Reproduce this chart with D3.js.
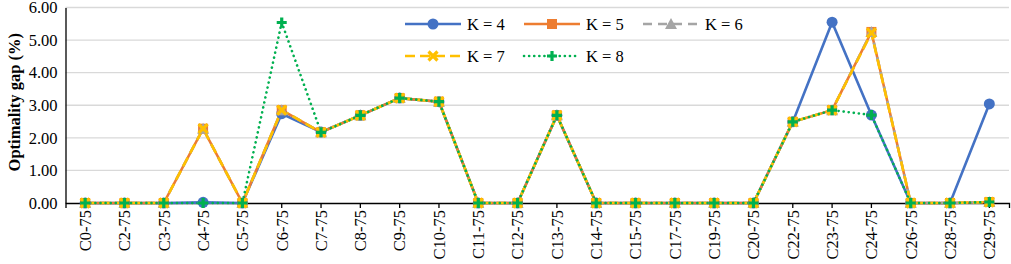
<!DOCTYPE html>
<meta charset="utf-8">
<script src="https://d3js.org/d3.v7.min.js"></script>
<style>
  body { margin: 0; background: #fff; }
</style>
<div id="chart"></div>
<script>
  // categories and values
  var categories = ["C0-75", "C2-75", "C3-75", "C4-75", "C5-75", "C6-75", "C7-75", "C8-75",
    "C9-75", "C10-75", "C11-75", "C12-75", "C13-75", "C14-75", "C15-75", "C17-75", "C19-75",
    "C20-75", "C22-75", "C23-75", "C24-75", "C26-75", "C28-75", "C29-75"];

  var k4 = [0, 0, 0, 0.02, 0, 2.74, 2.18, 2.69, 3.22, 3.11, 0, 0, 2.69, 0, 0, 0, 0, 0, 2.49, 5.55, 2.70, 0, 0, 3.04];
  var k5 = [0, 0, 0, 2.28, 0, 2.85, 2.17, 2.69, 3.22, 3.11, 0, 0, 2.69, 0, 0, 0, 0, 0, 2.49, 2.85, 5.25, 0, 0, 0.03];
  var k6 = [0, 0, 0, 2.28, 0, 2.85, 2.17, 2.69, 3.22, 3.11, 0, 0, 2.69, 0, 0, 0, 0, 0, 2.49, 2.85, 5.25, 0, 0, 0.03];
  var k7 = [0, 0, 0, 2.28, 0, 2.85, 2.17, 2.69, 3.22, 3.11, 0, 0, 2.69, 0, 0, 0, 0, 0, 2.49, 2.85, 5.22, 0, 0, 0.03];
  var k8 = [0, 0, 0, 0, 0, 5.54, 2.17, 2.69, 3.22, 3.11, 0, 0, 2.69, 0, 0, 0, 0, 0, 2.49, 2.85, 2.70, 0, 0, 0.03];

  var yTicks = [0, 1, 2, 3, 4, 5, 6];

  var series = [
    { name: "K = 4", values: k4, color: "#4472C4", dash: null, marker: "circle" },
    { name: "K = 5", values: k5, color: "#ED7D31", dash: null, marker: "square" },
    { name: "K = 6", values: k6, color: "#A5A5A5", dash: "9,6", marker: "triangle" },
    { name: "K = 7", values: k7, color: "#FFC000", dash: "10,5", marker: "x" },
    { name: "K = 8", values: k8, color: "#00B050", dash: "0.1,5", marker: "plus" }
  ];

  var FONT = "'Liberation Serif', serif";

  var W = 1011, H = 264;
  var margin = { top: 7.5, right: 2, bottom: 61, left: 65.5 };
  var width = W - margin.left - margin.right,
    height = H - margin.top - margin.bottom;

  var svg = d3.select("#chart").append("svg")
    .attr("width", W).attr("height", H)
    .append("g")
    .attr("transform", "translate(" + margin.left + "," + margin.top + ")");

  var x = d3.scaleBand().domain(categories).range([0, width]);
  var y = d3.scaleLinear().domain([0, 6]).range([height, 0]);
  var cx = function (c) { return x(c) + x.bandwidth() / 2; };

  // gridlines
  svg.append("g")
    .selectAll("line")
    .data(yTicks.filter(function (d) { return d > 0; }))
    .enter().append("line")
    .attr("x1", 0).attr("x2", width)
    .attr("y1", function (d) { return y(d); })
    .attr("y2", function (d) { return y(d); })
    .attr("stroke", "#d9d9d9").attr("stroke-width", 1.3);

  // y axis
  var yAxis = svg.append("g")
    .call(d3.axisLeft(y).tickValues(yTicks).tickSize(0).tickPadding(8)
      .tickFormat(d3.format(".2f")));
  yAxis.attr("font-family", null);
  yAxis.select(".domain").attr("stroke", "#000").attr("stroke-width", 1.3);
  yAxis.selectAll("text").style("font-family", FONT).style("font-size", "16.5px").attr("fill", "#000");

  // x axis
  var xAxis = svg.append("g")
    .attr("transform", "translate(0," + height + ")")
    .call(d3.axisBottom(x).tickSize(5).tickSizeOuter(5).tickPadding(5));
  xAxis.attr("font-family", null);
  xAxis.select(".domain").attr("stroke", "#000").attr("stroke-width", 1.3);
  xAxis.selectAll(".tick line").attr("stroke", "#000").attr("stroke-width", 1.3);
  xAxis.selectAll("text")
    .style("font-family", FONT)
    .style("font-size", "16.5px")
    .attr("fill", "#000")
    .attr("transform", "rotate(-90)")
    .attr("text-anchor", "end")
    .attr("x", -7).attr("y", 0).attr("dy", "0.35em");

  // y label
  svg.append("text")
    .attr("transform", "translate(" + (14 - margin.left) + "," + (height / 2 - 3) + ") rotate(-90)")
    .attr("text-anchor", "middle").attr("dy", "0.35em")
    .style("font-family", FONT)
    .style("font-size", "16.5px").style("font-weight", "bold")
    .text("Optimality gap (%)");

  function drawMarker(g, type, color) {
    if (type === "circle") {
      g.append("circle").attr("r", 5.5).attr("fill", color);
    } else if (type === "square") {
      g.append("rect").attr("x", -5).attr("y", -5).attr("width", 10).attr("height", 10).attr("fill", color);
    } else if (type === "triangle") {
      g.append("path").attr("d", "M0,-6L6,5L-6,5Z").attr("fill", color);
    } else if (type === "x") {
      g.append("path").attr("d", "M-4.5,-4.5L4.5,4.5M-4.5,4.5L4.5,-4.5")
        .attr("stroke", color).attr("stroke-width", 3.2).attr("fill", "none");
    } else if (type === "plus") {
      g.append("path").attr("d", "M-5,0L5,0M0,-5L0,5")
        .attr("stroke", color).attr("stroke-width", 3.2).attr("fill", "none");
    }
  }

  var line = d3.line()
    .x(function (d, i) { return cx(categories[i]); })
    .y(function (d) { return y(d); });

  series.forEach(function (s) {
    svg.append("path")
      .datum(s.values)
      .attr("d", line)
      .attr("fill", "none")
      .attr("stroke", s.color)
      .attr("stroke-width", 2.6)
      .attr("stroke-linecap", s.marker === "plus" ? "round" : "butt")
      .attr("stroke-dasharray", s.dash);
  });

  series.forEach(function (s) {
    s.values.forEach(function (v, i) {
      var g = svg.append("g").attr("transform", "translate(" + cx(categories[i]) + "," + y(v) + ")");
      drawMarker(g, s.marker, s.color);
    });
  });

  // legend
  var legendPos = [
    { x: 405, y: 24 }, { x: 524, y: 24 }, { x: 643, y: 24 },
    { x: 405, y: 56 }, { x: 524, y: 56 }
  ];
  var legend = d3.select("svg").append("g");
  series.forEach(function (s, i) {
    var p = legendPos[i];
    var g = legend.append("g").attr("transform", "translate(" + p.x + "," + p.y + ")");
    g.append("line").attr("x1", 0).attr("x2", 56).attr("y1", 0).attr("y2", 0)
      .attr("stroke", s.color).attr("stroke-width", 2.6)
      .attr("stroke-linecap", s.marker === "plus" ? "round" : "butt")
      .attr("stroke-dasharray", s.dash);
    drawMarker(g.append("g").attr("transform", "translate(28,0)"), s.marker, s.color);
    g.append("text").attr("x", 62).attr("y", 0).attr("dy", "0.35em")
      .style("font-family", FONT)
      .style("font-size", "16.5px").text(s.name);
  });
</script>
